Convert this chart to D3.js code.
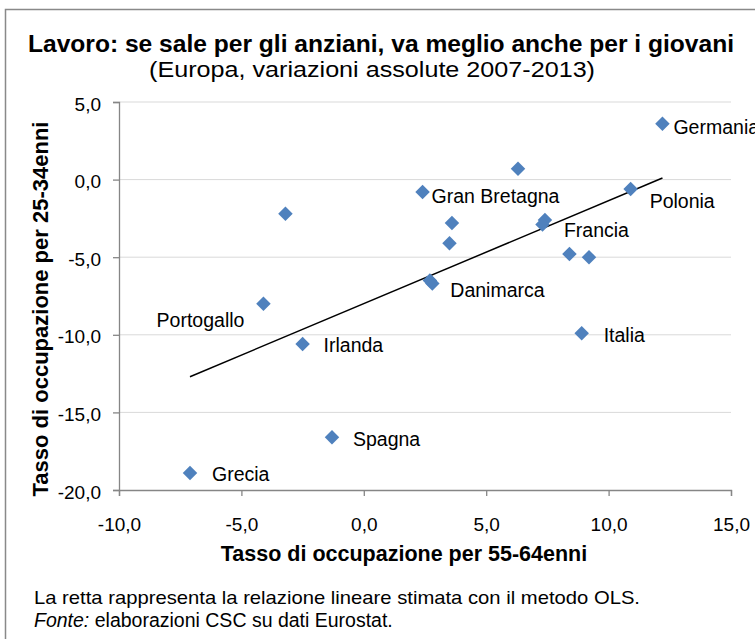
<!DOCTYPE html>
<html>
<head>
<meta charset="utf-8">
<script src="https://cdn.jsdelivr.net/npm/d3@7"></script>
<style>
  html, body { margin: 0; padding: 0; background: #fff; }
  svg { display: block; }
  text { font-family: "Liberation Sans", Arial, sans-serif; fill: #000; }
</style>
</head>
<body>
<svg id="chart" width="755" height="639"></svg>
<script>
// ---- data ----
const countries = ["Germania", "", "Gran Bretagna", "Polonia", "", "", "", "Francia", "", "", "", "Danimarca", "", "Portogallo", "Irlanda", "Italia", "Spagna", "Grecia"];
const occ5564 = [12.2, 6.3, 2.4, 10.9, -3.2, 3.6, 3.5, 7.4, 7.3, 8.4, 9.2, 2.8, 2.7, -4.1, -2.5, 8.9, -1.3, -7.1];
const occ2534 = [3.6, 0.7, -0.8, -0.6, -2.2, -2.8, -4.1, -2.6, -2.9, -4.8, -5.0, -6.7, -6.5, -8.0, -10.6, -9.9, -16.6, -18.9];
const olsX = [-7.1, 12.2];
const olsY = [-12.7, 0.1];
const xTicks = [-10, -5, 0, 5, 10, 15];
const yTicks = [5, 0, -5, -10, -15, -20];

const titleText = "Lavoro: se sale per gli anziani, va meglio anche per i giovani";
const subtitleText = "(Europa, variazioni assolute 2007-2013)";
const xTitle = "Tasso di occupazione per 55-64enni";
const yTitle = "Tasso di occupazione per 25-34enni";
const note1 = "La retta rappresenta la relazione lineare stimata con il metodo OLS.";
const note2a = "Fonte:";
const note2b = " elaborazioni CSC su dati Eurostat.";

// label placement (pixel offsets from marker)
const labelOffsets = {
  "Germania": [11, 10, "start"],
  "Gran Bretagna": [9, 11, "start"],
  "Polonia": [19, 19, "start"],
  "Francia": [19, 17, "start"],
  "Danimarca": [18, 13, "start"],
  "Italia": [22, 9, "start"],
  "Portogallo": [-19, 23, "end"],
  "Irlanda": [21, 8, "start"],
  "Spagna": [21, 9, "start"],
  "Grecia": [22, 8, "start"]
};

const fmt = v => d3.format(".1f")(v).replace(".", ",").replace("−", "-");

const svg = d3.select("#chart");
const W = 755, H = 639;

// outer frame
svg.append("rect")
  .attr("x", 5.5).attr("y", 9.5)
  .attr("width", W + 10).attr("height", H + 10)
  .attr("fill", "#fff").attr("stroke", "#898989").attr("stroke-width", 1.5);

const x = d3.scaleLinear().domain([-10, 15]).range([119, 731]);
const y = d3.scaleLinear().domain([-20, 5]).range([490, 102]);

// gridlines
svg.append("g").selectAll("line")
  .data(yTicks.filter(t => t !== -20))
  .join("line")
  .attr("x1", x(-10)).attr("x2", x(15))
  .attr("y1", d => y(d)).attr("y2", d => y(d))
  .attr("stroke", "#d9d9d9").attr("stroke-width", 1);

// axes
const xAxis = svg.append("g")
  .attr("transform", `translate(0,${y(-20)})`)
  .call(d3.axisBottom(x).tickValues(xTicks).tickSize(6).tickPadding(0).tickFormat(fmt));
const yAxis = svg.append("g")
  .attr("transform", `translate(${x(-10)},0)`)
  .call(d3.axisLeft(y).tickValues(yTicks).tickSize(6).tickPadding(0).tickFormat(fmt));

[xAxis, yAxis].forEach(g => {
  g.select(".domain").attr("stroke", "#868686").attr("stroke-width", 1.3);
  g.selectAll(".tick line").attr("stroke", "#868686").attr("stroke-width", 1.3);
  g.selectAll("text").style("font-family", '"Liberation Sans", Arial, sans-serif')
    .style("font-size", "19px").attr("fill", "#000");
});
xAxis.selectAll(".tick text").attr("y", 41).attr("dy", null);
yAxis.selectAll(".tick text").attr("x", -18).attr("dy", 8).attr("y", 0);

// OLS line
svg.append("line")
  .attr("x1", x(olsX[0])).attr("y1", y(olsY[0]))
  .attr("x2", x(olsX[1])).attr("y2", y(olsY[1]))
  .attr("stroke", "#000").attr("stroke-width", 1.5);

// points
const pts = countries.map((c, i) => ({ c, xv: occ5564[i], yv: occ2534[i] }));
const diamond = d3.symbol().type(d3.symbolSquare).size(105);
svg.append("g").selectAll("path")
  .data(pts)
  .join("path")
  .attr("d", diamond)
  .attr("transform", d => `translate(${x(d.xv)},${y(d.yv)}) rotate(45)`)
  .attr("fill", "#4f81bd");

// labels
svg.append("g").selectAll("text")
  .data(pts.filter(d => d.c))
  .join("text")
  .attr("x", d => x(d.xv) + labelOffsets[d.c][0])
  .attr("y", d => y(d.yv) + labelOffsets[d.c][1])
  .attr("text-anchor", d => labelOffsets[d.c][2])
  .style("font-size", "19.5px")
  .text(d => d.c);

// titles
svg.append("text")
  .attr("x", 381).attr("y", 52).attr("text-anchor", "middle")
  .style("font-size", "24.4px").style("font-weight", "bold")
  .attr("textLength", 706).attr("lengthAdjust", "spacingAndGlyphs")
  .text(titleText);
svg.append("text")
  .attr("x", 372).attr("y", 77).attr("text-anchor", "middle")
  .style("font-size", "22px")
  .attr("textLength", 446).attr("lengthAdjust", "spacingAndGlyphs")
  .text(subtitleText);

svg.append("text")
  .attr("x", 404).attr("y", 561).attr("text-anchor", "middle")
  .style("font-size", "21.5px").style("font-weight", "bold")
  .text(xTitle);
svg.append("text")
  .attr("transform", "translate(48,309) rotate(-90)")
  .attr("text-anchor", "middle")
  .style("font-size", "22px").style("font-weight", "bold")
  .text(yTitle);

// notes
svg.append("text")
  .attr("x", 34).attr("y", 604)
  .style("font-size", "19px")
  .attr("textLength", 606).attr("lengthAdjust", "spacingAndGlyphs")
  .text(note1);
const n2 = svg.append("text").attr("x", 34).attr("y", 627).style("font-size", "19.5px");
n2.append("tspan").style("font-style", "italic").text(note2a);
n2.append("tspan").text(note2b);
</script>
</body>
</html>
